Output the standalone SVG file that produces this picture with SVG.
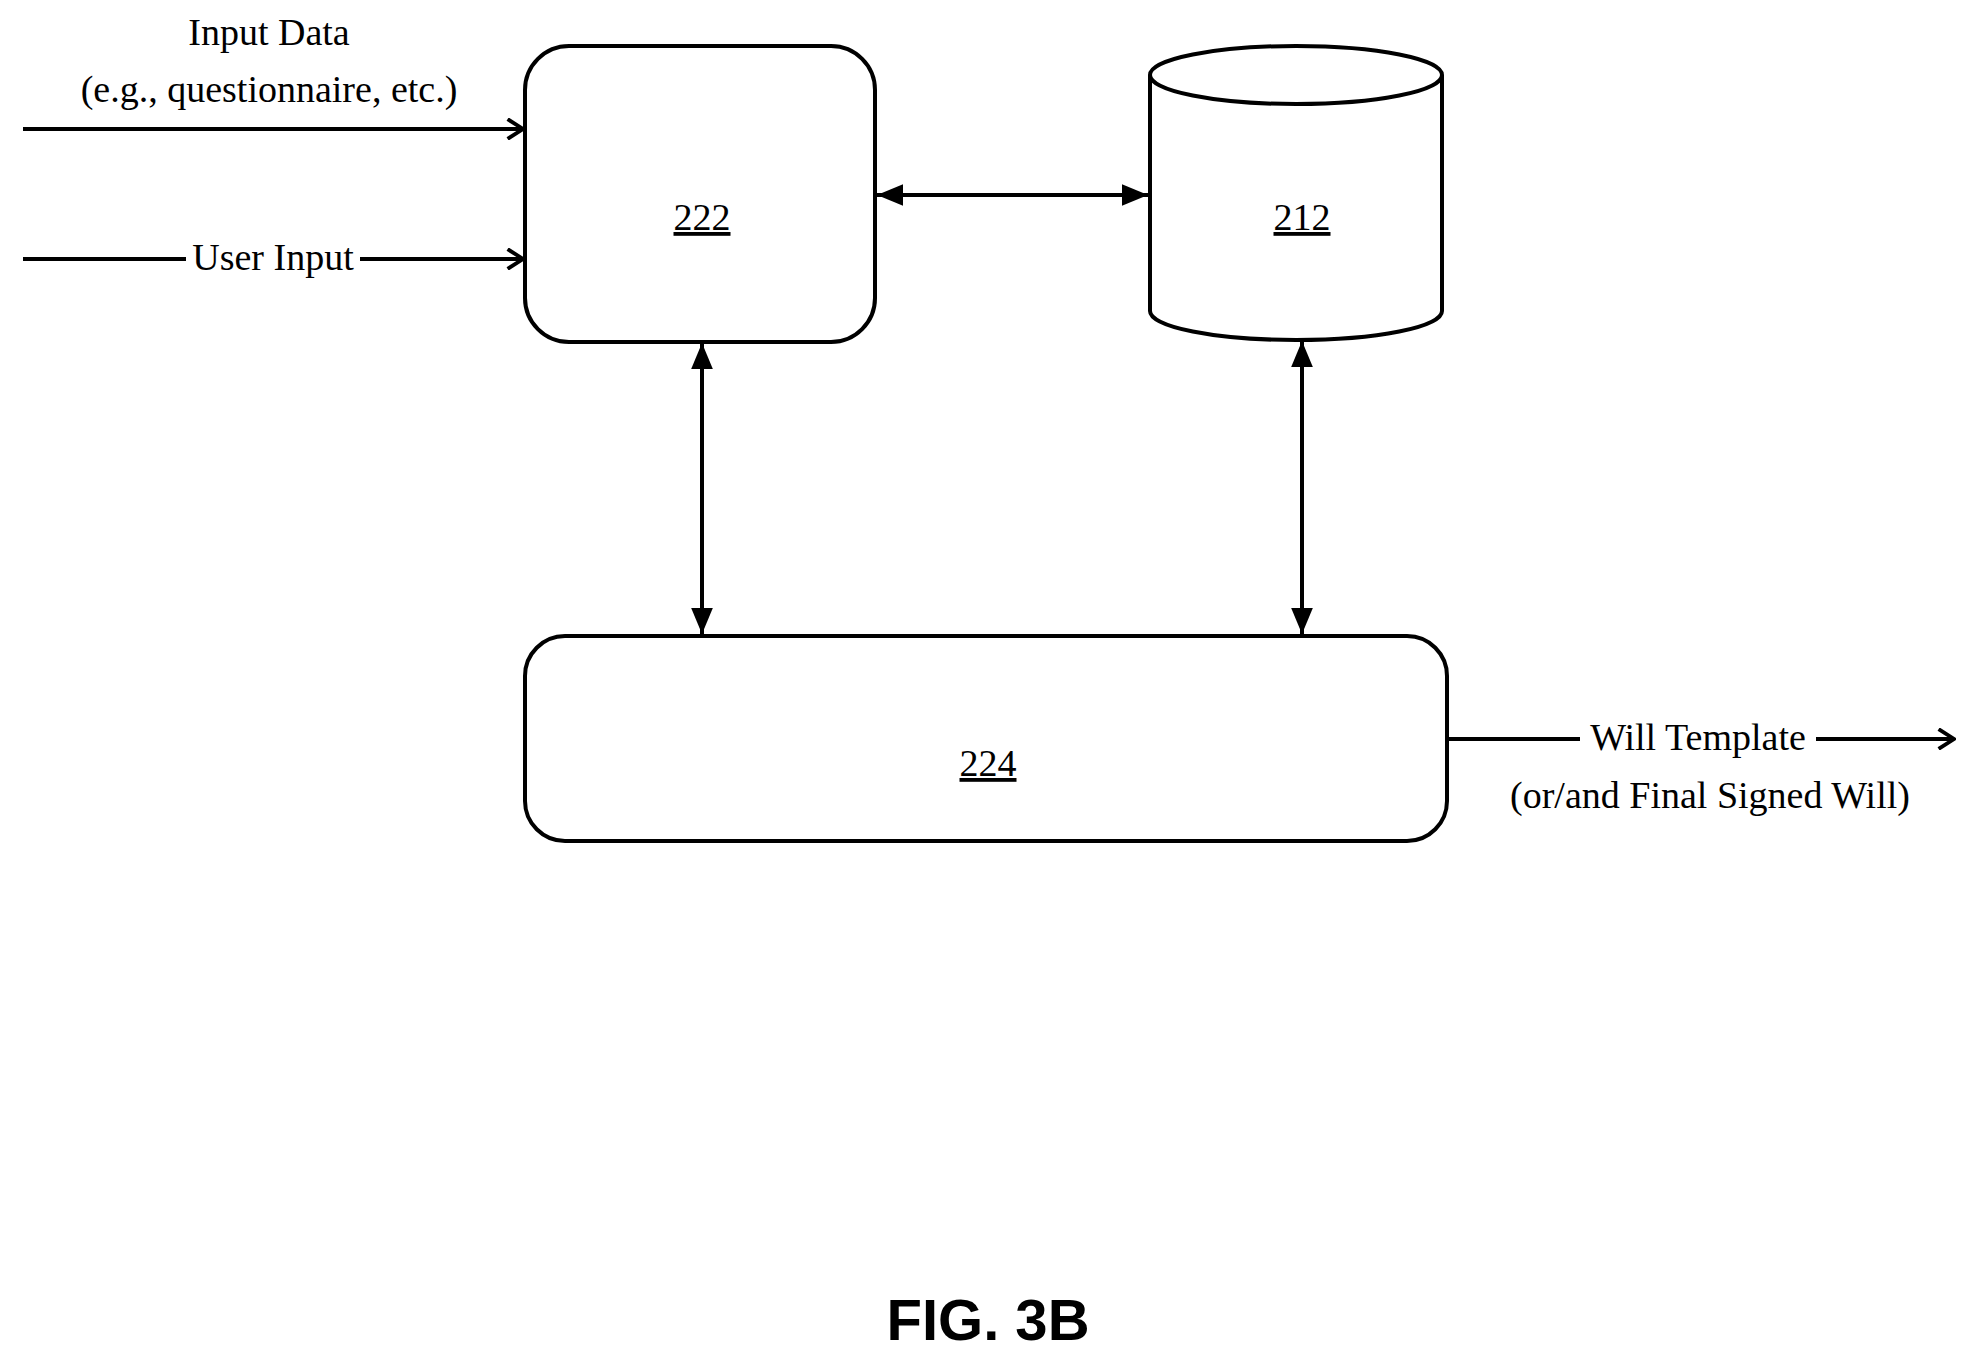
<svg xmlns="http://www.w3.org/2000/svg" width="1964" height="1355" viewBox="0 0 1964 1355">
<style>
.s{fill:#fff;stroke:#000;stroke-width:4}
.t{font-family:"Liberation Serif",serif;font-size:38px;text-anchor:middle;fill:#000}
.c{stroke:#000;stroke-width:4;fill:none}
</style>
<defs>
<marker id="open" viewBox="0 0 20 20" refX="18" refY="10" markerWidth="22" markerHeight="22" markerUnits="userSpaceOnUse" orient="auto"><path d="M4,1 L18,10 L4,19" fill="none" stroke="#000" stroke-width="3.5"/></marker>
<marker id="fill" viewBox="0 0 24 24" refX="24" refY="12" markerWidth="26" markerHeight="26" markerUnits="userSpaceOnUse" orient="auto-start-reverse"><path d="M0,2 L24,12 L0,22 Z" fill="#000"/></marker>
</defs>
<rect width="1964" height="1355" fill="#fff"/>
<g id="connectors">
<line class="c" x1="23" y1="129" x2="523" y2="129" stroke-width="5" marker-end="url(#open)"/>
<line class="c" x1="23" y1="259" x2="523" y2="259" marker-end="url(#open)"/>
<rect x="186" y="238" width="174" height="40" fill="#fff"/>
<line class="c" x1="877" y1="195" x2="1148" y2="195" stroke-width="5" marker-start="url(#fill)" marker-end="url(#fill)"/>
<line class="c" x1="702" y1="343" x2="702" y2="634" marker-start="url(#fill)" marker-end="url(#fill)"/>
<line class="c" x1="1302" y1="341" x2="1302" y2="634" marker-start="url(#fill)" marker-end="url(#fill)"/>
<line class="c" x1="1449" y1="739" x2="1954" y2="739" marker-end="url(#open)"/>
<rect x="1580" y="718" width="236" height="40" fill="#fff"/>
</g>
<g id="labels">
<text class="t" x="269" y="45">Input Data</text>
<text class="t" x="269" y="102">(e.g., questionnaire, etc.)</text>
<text class="t" x="273" y="270">User Input</text>
<text class="t" x="1698" y="750">Will Template</text>
<text class="t" x="1710" y="808">(or/and Final Signed Will)</text>
</g>
<g id="n222">
<rect class="s" x="525" y="46" width="350" height="296" rx="44"/>
<text class="t" x="702" y="230" text-decoration="underline">222</text>
</g>
<g id="n212">
<path class="s" d="M1150,75 L1150,311 A146,29 0 0 0 1442,311 L1442,75"/>
<ellipse class="s" cx="1296" cy="75" rx="146" ry="29"/>
<text class="t" x="1302" y="230" text-decoration="underline">212</text>
</g>
<g id="n224">
<rect class="s" x="525" y="636" width="922" height="205" rx="40"/>
<text class="t" x="988" y="776" text-decoration="underline">224</text>
</g>
<text x="988" y="1340" font-family="Liberation Sans,Arial,sans-serif" font-weight="bold" font-size="58" text-anchor="middle">FIG. 3B</text>
</svg>
